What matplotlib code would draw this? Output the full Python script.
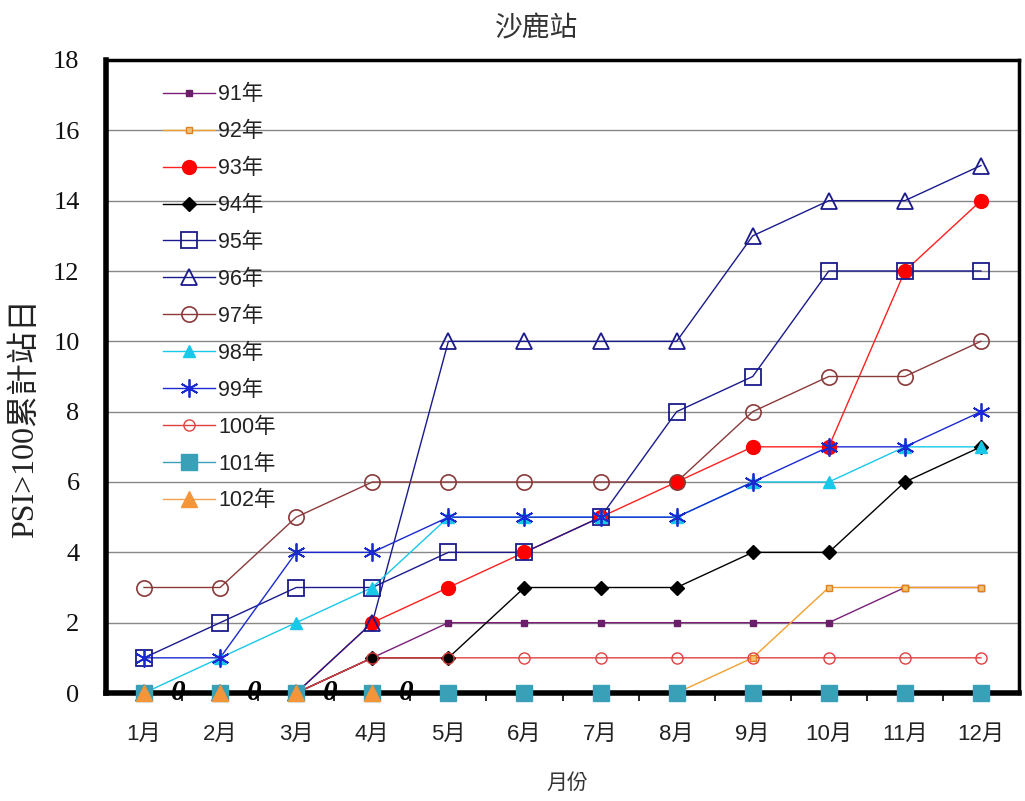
import matplotlib
matplotlib.use("Agg")
import matplotlib.pyplot as plt
from matplotlib.lines import Line2D
import numpy as np

months = ["1月", "2月", "3月", "4月", "5月", "6月", "7月", "8月", "9月", "10月", "11月", "12月"]
y91 = [0, 0, 0, 1, 2, 2, 2, 2, 2, 2, 3, 3]
y92 = [0, 0, 0, 0, 0, 0, 0, 0, 1, 3, 3, 3]
y93 = [0, 0, 0, 2, 3, 4, 5, 6, 7, 7, 12, 14]
y94 = [0, 0, 0, 1, 1, 3, 3, 3, 4, 4, 6, 7]
y95 = [1, 2, 3, 3, 4, 4, 5, 8, 9, 12, 12, 12]
y96 = [0, 0, 0, 2, 10, 10, 10, 10, 13, 14, 14, 15]
y97 = [3, 3, 5, 6, 6, 6, 6, 6, 8, 9, 9, 10]
y98 = [0, 1, 2, 3, 5, 5, 5, 5, 6, 6, 7, 7]
y99 = [1, 1, 4, 4, 5, 5, 5, 5, 6, 7, 7, 8]
y100 = [0, 0, 0, 1, 1, 1, 1, 1, 1, 1, 1, 1]
y101 = [0, 0, 0, 0, 0, 0, 0, 0, 0, 0, 0, 0]
y102 = [0, 0, 0, 0]
labels = ["91年", "92年", "93年", "94年", "95年", "96年", "97年", "98年", "99年", "100年", "101年", "102年"]
zero_labels = ["0", "0", "0", "0"]

SERIF_CJK = ["Liberation Serif", "Noto Sans CJK TC", "DejaVu Sans"]
SANS_CJK = ["Liberation Sans", "Noto Sans CJK TC", "DejaVu Sans"]

fig = plt.figure(figsize=(10.25, 8.01), dpi=100)
ax = fig.add_axes([106/1025, 1-693/801, (1019-106)/1025, (693-60)/801])

x = np.arange(1, 13)
line_colors = ["#7B1F7B", "#F0A030", "#FF2020", "#000000", "#1A1A8C", "#1A1A8C",
               "#8B3A3A", "#18C8E8", "#1A2AD0", "#E04040", "#3AA0B8", "#F4A050"]
marker_styles = [
    dict(marker="s", ms=5, mfc="#6B1F6B", mec="#6B1F6B"),
    dict(marker="s", ms=5, mfc="#F5C070", mec="#E08020"),
    dict(marker="o", ms=10, mfc="#FF0000", mec="#FF0000"),
    dict(marker="D", ms=7, mfc="#000000", mec="#000000"),
    dict(marker="s", ms=11, mfc="none", mec="#1A1A8C", mew=1.3),
    dict(marker="^", ms=12, mfc="none", mec="#1A1A8C", mew=1.3),
    dict(marker="o", ms=11, mfc="none", mec="#8B3A3A", mew=1.2),
    dict(marker="^", ms=9, mfc="#18C8E8", mec="#18C8E8"),
    dict(marker=(6, 2, 0), ms=13, mfc="#1A2AD0", mec="#1A2AD0", mew=1.3),
    dict(marker="o", ms=8, mfc="none", mec="#E04040", mew=1.0),
    dict(marker="s", ms=11, mfc="#3AA0B8", mec="#3AA0B8"),
    dict(marker="^", ms=11, mfc="#F4953A", mec="#F4953A"),
]
series = [y91, y92, y93, y94, y95, y96, y97, y98, y99, y100, y101, y102]
handles = []
for i, (ys, lc, ms, lab) in enumerate(zip(series, line_colors, marker_styles, labels)):
    xs = x[:len(ys)]
    ax.plot(xs, ys, lw=1.0, color=lc, zorder=3 + i * 0.01, clip_on=False)
    ax.plot(xs, ys, ls="none", zorder=10 + i * 0.01, clip_on=False, **ms)
    handles.append(Line2D([], [], color=lc, lw=1.0, label=lab, **ms))

for i, t in enumerate(zero_labels):
    ax.text(i + 1.45, 0.0, t, fontsize=21, fontweight="bold", fontstyle="italic",
            family="Liberation Serif", ha="center", va="center", zorder=20)

ax.set_xlim(0.5, 12.5)
ax.set_ylim(0, 18)
ax.set_yticks(np.arange(0, 19, 2))
ax.set_xticks(x)
ax.set_xticklabels(months, family=SANS_CJK, fontsize=16, color="#222222")
ax.set_xticks(np.arange(1.5, 12.5, 1), minor=True)
ax.tick_params(axis="x", which="major", length=0, pad=22)
ax.tick_params(axis="x", which="minor", length=6, width=1.2, direction="out")
ax.tick_params(axis="y", length=0, pad=19, labelsize=19)
for lbl in ax.get_yticklabels():
    lbl.set_family("Liberation Serif")
    lbl.set_color("#111111")
ax.yaxis.grid(True, color="#888888", lw=1.0)
ax.set_axisbelow(True)
for s in ax.spines.values():
    s.set_linewidth(2.5)
    s.set_color("black")
ax.spines["bottom"].set_linewidth(4)
ax.spines["left"].set_linewidth(4)
ax.spines["bottom"].set_zorder(5)

fig.text(537/1025, 1-29/801, "沙鹿站", family=SANS_CJK, fontsize=20, ha="center", va="center", color="#333333")
fig.text(567/1025, 1-783/801, "月份", family=SANS_CJK, fontsize=15, ha="center", va="center", color="#333333")
fig.text(25/1025, 1-418/801, "PSI>100累計站日", family=SERIF_CJK, fontsize=23,
         rotation=90, ha="center", va="center", color="#222222")

leg = ax.legend(handles=handles, loc="upper left", bbox_to_anchor=(0.0624, 0.9617), frameon=False,
                prop={"family": SANS_CJK, "size": 15.5}, handlelength=2.42, labelspacing=0.74,
                handletextpad=0.14, borderaxespad=0, borderpad=0)
for t in leg.get_texts():
    t.set_color("#222222")

fig.savefig("out.png", dpi=100)
